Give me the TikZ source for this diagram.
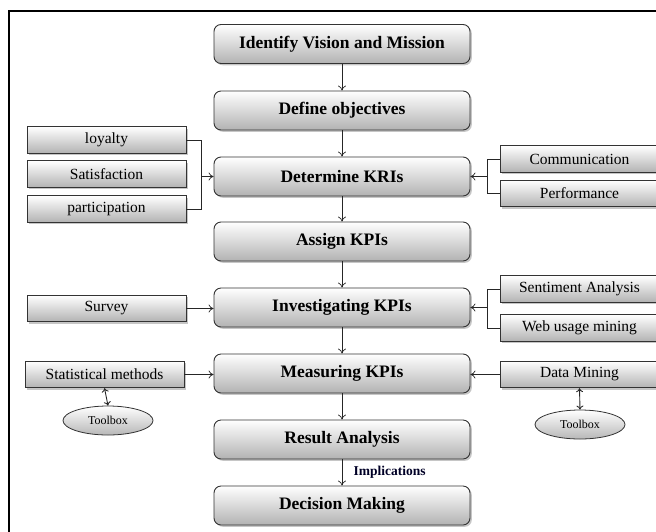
\documentclass[tikz,border=0pt]{standalone}
\usepackage{fontspec}
\setmainfont{Liberation Serif}
\usetikzlibrary{shadows,arrows.meta,shapes.geometric}
\begin{document}
\begin{tikzpicture}[x=1pt,y=-1pt,
 shad/.style={drop shadow={shadow xshift=1.8pt,shadow yshift=-1.8pt,opacity=0.45}},
 mainbox/.style={draw=black!80, line width=0.9pt, rounded corners=7pt, top color=white, bottom color=black!30, shad, minimum width=256pt, minimum height=39pt, font=\fontsize{17.5}{20}\selectfont\bfseries, inner sep=0pt},
 sidebox/.style={draw=black!80, line width=0.9pt, top color=white, bottom color=black!30, shad, minimum width=159pt, minimum height=26.5pt, font=\fontsize{15.5}{17}\selectfont, inner sep=0pt},
 tool/.style={ellipse, draw=black!80, line width=0.8pt, top color=white, bottom color=black!28, minimum width=90pt, minimum height=29pt, font=\fontsize{12}{13}\selectfont, inner sep=0pt},
 conn/.style={draw=black!85, line width=0.7pt},
 arr/.style={conn, -{To[length=5pt,width=8pt]}},
 darr/.style={conn, line width=0.9pt, {To[length=4pt,width=7pt]}-{To[length=4pt,width=7pt]}}
]
\useasboundingbox (0,0) rectangle (656,531);
\draw[line width=1.5pt] (9,540) -- (9,11) -- (665,11);

\node[mainbox] (n1) at (342,44) {Identify Vision and Mission};
\node[mainbox] (n2) at (342,110.5) {Define objectives};
\node[mainbox] (n3) at (342,176.5) {Determine KRIs};
\node[mainbox] (n4) at (342,241.5) {Assign KPIs};
\node[mainbox] (n5) at (342,307.5) {Investigating KPIs};
\node[mainbox] (n6) at (342,373.5) {Measuring KPIs};
\node[mainbox] (n7) at (342,439.5) {Result Analysis};
\node[mainbox] (n8) at (342,505.5) {Decision Making};

\node[sidebox] (loy) at (106.5,140) {loyalty};
\node[sidebox] (sat) at (106.5,174) {Satisfaction};
\node[sidebox] (par) at (106.5,209) {participation};
\node[sidebox] (sur) at (106.5,308.5) {Survey};
\node[sidebox] (sta) at (104.5,374.5) {Statistical methods};
\node[tool] (tl) at (108,420.5) {Toolbox};

\node[sidebox] (com) at (579.5,159) {Communication};
\node[sidebox] (per) at (579.5,193.5) {Performance};
\node[sidebox] (sen) at (579.5,289) {Sentiment Analysis};
\node[sidebox] (web) at (579.5,328) {Web usage mining};
\node[sidebox] (dat) at (579.5,374.5) {Data Mining};
\node[tool] (tr) at (580,424.5) {Toolbox};

\foreach \a/\b in {n1/n2,n2/n3,n3/n4,n4/n5,n5/n6,n6/n7,n7/n8}
  \draw[arr] (\a) -- (\b);
\node[font=\fontsize{13.5}{15}\selectfont\bfseries, text=black!85!blue, anchor=west] at (350,472) {Implications};

\coordinate (bl) at (201,176.5);
\draw[conn] (loy.east) -| (bl);
\draw[conn] (par.east) -| (bl);
\draw[arr] (bl) -- (n3.west);

\coordinate (br) at (487,176.5);
\draw[conn] (com.west) -| (br);
\draw[conn] (per.west) -| (br);
\draw[arr] (br) -- (n3.east);

\coordinate (br2) at (487,307.5);
\draw[conn] (sen.west) -| (br2);
\draw[conn] (web.west) -| (br2);
\draw[arr] (br2) -- (n5.east);

\draw[arr] (sur.east) -- (sur.east -| n5.west);
\draw[arr] (sta.east) -- (sta.east -| n6.west);
\draw[arr] (dat.west) -- (dat.west -| n6.east);

\draw[darr] (sta.south) -- (tl.north);
\draw[darr] (dat.south) -- (tr.north);
\end{tikzpicture}
\end{document}
